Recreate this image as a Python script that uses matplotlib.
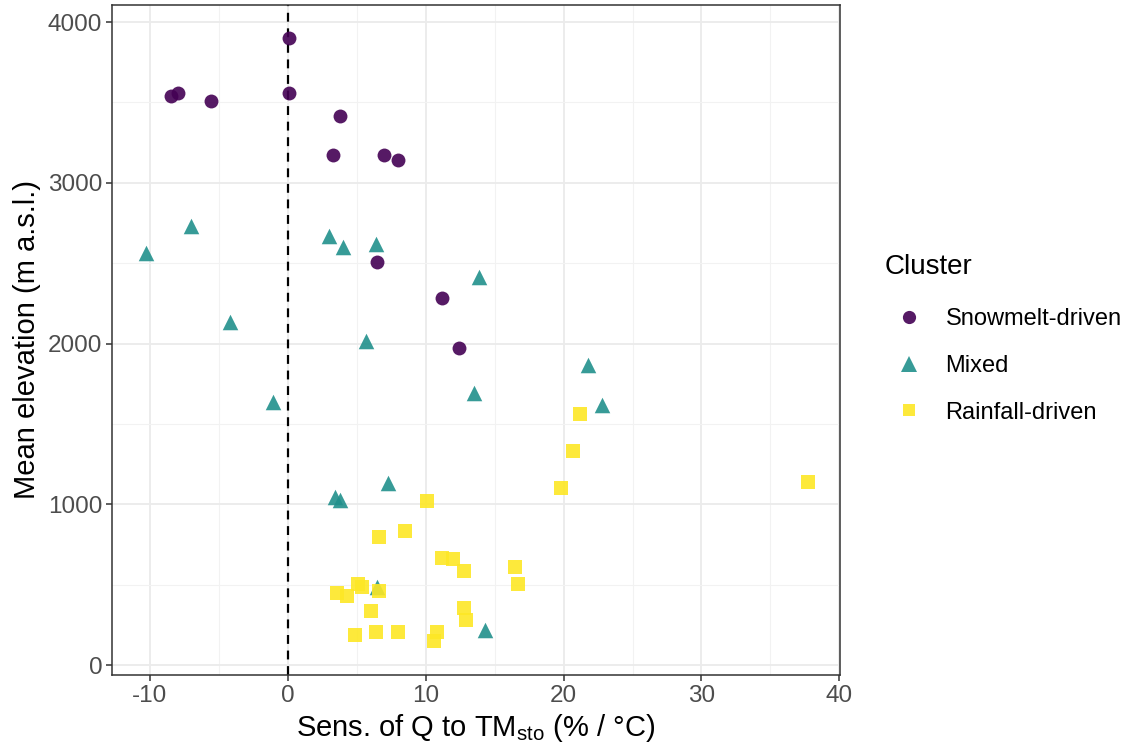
import matplotlib
matplotlib.use("Agg")
import matplotlib.pyplot as plt
from matplotlib.ticker import MultipleLocator
from matplotlib.lines import Line2D

plt.rcParams['font.family'] = ['Liberation Sans', 'DejaVu Sans']
plt.rcParams['axes.unicode_minus'] = False

snow_x = [0.1, -8.5, -8.0, -5.6, 0.1, 3.8, 3.3, 7.0, 8.0, 6.5, 11.2, 12.4]
snow_y = [3900, 3540, 3558, 3509, 3558, 3415, 3173, 3173, 3141, 2507, 2283, 1972]

mixed_x = [-10.3, -7.0, 3.0, 4.0, 6.4, -4.2, 5.7, 13.9, 21.8, 22.8, 13.5, -1.1,
           3.4, 3.8, 7.3, 6.5, 14.3]
mixed_y = [2563, 2731, 2669, 2600, 2619, 2134, 2016, 2414, 1866, 1617, 1692, 1636,
           1045, 1026, 1132, 485, 218]

rain_x = [19.8, 10.1, 6.6, 8.5, 11.2, 12.0, 12.8, 16.5, 16.7, 5.1, 5.4, 6.6, 3.6,
          4.3, 6.0, 12.8, 12.9, 4.9, 6.4, 8.0, 10.8, 10.6, 21.2, 20.7, 37.7]
rain_y = [1101, 1020, 796, 834, 666, 659, 585, 610, 504, 504, 485, 460, 448,
          429, 336, 355, 280, 187, 205, 205, 205, 149, 1561, 1331, 1138]

clusters = ["Snowmelt-driven", "Mixed", "Rainfall-driven"]
colors = ["#440154", "#21908C", "#FDE725"]
markers = ["o", "^", "s"]

fig = plt.figure(figsize=(11.28, 7.46), dpi=100)
ax = fig.add_axes([0.0993, 0.0952, 0.6454, 0.8981])

ax.set_xlim(-12.75, 40.05)
ax.set_ylim(-62, 4106)
ax.xaxis.set_major_locator(MultipleLocator(10))
ax.xaxis.set_minor_locator(MultipleLocator(5))
ax.yaxis.set_major_locator(MultipleLocator(1000))
ax.yaxis.set_minor_locator(MultipleLocator(500))
ax.grid(which='major', color='#EBEBEB', linewidth=1.3)
ax.grid(which='minor', color='#F2F2F2', linewidth=0.8)
ax.set_axisbelow(True)
ax.tick_params(which='minor', length=0)
ax.tick_params(which='major', length=4, color='#333333', width=1.1,
               labelsize=17.5, labelcolor='#4D4D4D', pad=3)
for s in ax.spines.values():
    s.set_color('#333333')
    s.set_linewidth(1.1)

ax.axvline(0, color='black', linestyle=(0, (4, 3)), linewidth=1.6, zorder=1.5)

data = [(snow_x, snow_y), (mixed_x, mixed_y), (rain_x, rain_y)]
sizes = [100, 125, 90]
for (xs, ys), c, m, s in zip(data, colors, markers, sizes):
    ax.scatter(xs, ys, c=c, marker=m, s=s, alpha=0.9, linewidths=0, zorder=3)

ax.set_xlabel(r'Sens. of Q to TM$\mathregular{_{sto}}$ (% / °C)', fontsize=21, labelpad=4)
ax.set_ylabel('Mean elevation (m a.s.l.)', fontsize=21, labelpad=5)

handles = [Line2D([], [], linestyle='none', marker=m, color=c, markersize=ms, alpha=0.9,
                  markeredgewidth=0)
           for c, m, ms in zip(colors, markers, [9.5, 11.5, 9])]
leg = fig.legend(handles, clusters, title='Cluster', loc='upper left',
                 bbox_to_anchor=(0.778, 0.6685), frameon=False, fontsize=17,
                 title_fontsize=20, labelspacing=1.05, handletextpad=0.52,
                 handlelength=2.06, borderaxespad=0, borderpad=0.3)
leg._legend_box.align = 'left'
leg._legend_box.sep = 20

fig.savefig('out.png', dpi=100)
